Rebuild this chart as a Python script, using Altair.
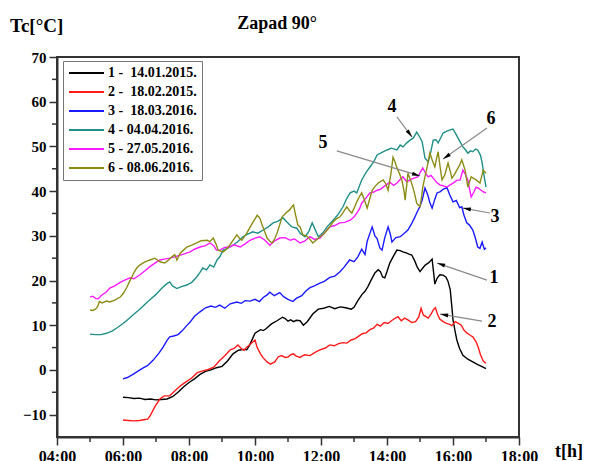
import math
import altair as alt
import pandas as pd

# ---------------- data ----------------
series_labels = ["1 -\u00a0 14.01.2015.", "2 -\u00a0 18.02.2015.", "3 -\u00a0 18.03.2016.",
                 "4 - 04.04.2016.", "5 - 27.05.2016.", "6 - 08.06.2016."]
series_colors = ["#000000", "#ff1a1a", "#1a1aff", "#1f8f88", "#ff1aff", "#8c8c14"]

s1_time = ("06:00 06:10 06:20 06:30 06:40 06:50 07:00 07:10 07:20 07:30 07:40 07:50 08:00 08:10 08:20 "
           "08:30 08:40 08:50 09:00 09:10 09:20 09:30 09:40 09:45 09:50 10:00 10:10 10:15 10:20 10:30 "
           "10:40 10:50 10:55 11:00 11:05 11:10 11:15 11:22 11:28 11:35 11:45 11:55 12:05 12:15 12:25 "
           "12:35 12:45 12:55 13:00 13:07 13:14 13:20 13:25 13:32 13:38 13:44 13:48 13:52 13:56 14:00 "
           "14:05 14:12 14:18 14:24 14:29 14:35 14:40 14:45 14:50 14:55 15:00 15:05 15:10 15:16 15:22 "
           "15:25 15:27 15:31 15:36 15:42 15:47 15:51 15:55 15:58 16:00 16:04 16:07 16:12 16:18 16:27 "
           "16:36 16:45 16:52 17:00").split()
s1_temp = [-6.1, -6.2, -6.4, -6.3, -6.6, -6.5, -6.7, -6.6, -6.5, -6.0, -5.0, -3.8, -2.8, -2.0, -1.0,
           -0.3, 0.0, 0.5, 0.8, 2.0, 3.6, 4.4, 4.6, 4.5, 5.5, 8.2, 9.0, 8.8, 9.2, 10.3,
           11.0, 11.8, 11.5, 10.9, 11.2, 10.8, 11.1, 11.0, 10.0, 10.8, 12.5, 13.6, 13.8, 14.2, 13.7,
           14.1, 13.9, 13.6, 14.0, 15.5, 16.8, 17.6, 18.6, 20.3, 21.7, 22.4, 22.0, 20.8, 20.6, 22.0,
           23.9, 25.5, 26.8, 26.7, 26.4, 26.2, 25.9, 25.7, 24.5, 23.0, 22.0, 22.8, 23.5, 24.0, 24.8,
           21.5, 19.2, 20.5, 21.3, 21.2, 20.8, 19.8, 17.9, 14.0, 11.2, 8.5, 6.7, 4.8, 3.3, 2.4,
           1.8, 1.2, 0.8, 0.3]

s2_time = ("06:00 06:10 06:20 06:30 06:40 06:45 06:50 06:58 07:07 07:15 07:25 07:35 07:45 07:55 08:05 "
           "08:15 08:25 08:35 08:45 08:55 09:05 09:15 09:22 09:29 09:35 09:40 09:45 09:52 10:00 10:04 "
           "10:10 10:15 10:22 10:28 10:36 10:42 10:48 10:55 11:00 11:05 11:10 11:15 11:22 11:30 11:40 "
           "11:50 11:58 12:08 12:16 12:24 12:32 12:40 12:47 12:55 13:02 13:08 13:15 13:22 13:29 13:36 "
           "13:42 13:48 13:55 14:02 14:08 14:14 14:20 14:26 14:32 14:38 14:45 14:52 14:58 15:02 15:06 "
           "15:10 15:15 15:20 15:25 15:28 15:32 15:36 15:42 15:48 15:54 15:58 16:04 16:10 16:15 16:20 "
           "16:25 16:32 16:36 16:42 16:46 16:50 16:55 17:00").split()
s2_temp = [-11.2, -11.3, -11.4, -11.3, -11.1, -11.0, -10.1, -8.2, -6.5, -5.8, -5.8, -4.6, -3.5, -2.6, -1.8,
           -0.6, -0.2, 0.1, 0.6, 2.0, 3.2, 4.5, 4.8, 5.6, 4.8, 4.4, 5.1, 5.8, 6.7, 5.0,
           3.6, 2.7, 1.8, 1.3, 1.8, 2.9, 3.2, 2.8, 2.9, 3.4, 3.6, 3.1, 2.8, 3.4, 3.2,
           4.0, 4.5, 4.9, 5.6, 5.4, 5.9, 6.1, 6.0, 6.7, 7.0, 7.5, 8.1, 8.3, 9.0, 9.4,
           10.2, 9.8, 10.6, 10.4, 11.0, 11.5, 11.9, 11.0, 11.6, 11.2, 10.6, 10.8, 11.9, 13.8, 12.3,
           12.0, 11.6, 12.5, 13.6, 13.9, 12.4, 11.4, 10.8, 10.4, 10.2, 9.9, 10.8, 10.4, 10.0, 8.9,
           8.3, 7.7, 7.4, 6.3, 5.0, 3.4, 2.0, 1.5]

s3_time = ("06:00 06:08 06:18 06:28 06:36 06:45 06:55 07:05 07:13 07:20 07:25 07:32 07:40 07:48 07:55 "
           "08:02 08:10 08:20 08:30 08:40 08:48 08:56 09:05 09:15 09:27 09:35 09:42 09:51 10:00 10:08 "
           "10:15 10:22 10:27 10:35 10:45 10:52 11:00 11:09 11:15 11:25 11:32 11:40 11:48 11:58 12:06 "
           "12:16 12:25 12:34 12:42 12:52 13:00 13:07 13:14 13:20 13:24 13:29 13:33 13:38 13:42 13:47 "
           "13:51 13:56 14:02 14:06 14:09 14:16 14:24 14:31 14:38 14:45 14:50 14:54 15:00 15:04 15:09 "
           "15:14 15:18 15:22 15:27 15:31 15:37 15:42 15:49 15:54 16:00 16:06 16:12 16:16 16:20 16:25 "
           "16:30 16:36 16:40 16:45 16:49 16:53 16:57 17:00").split()
s3_temp = [-2.0, -1.7, -1.0, -0.2, 0.4, 1.0, 2.2, 3.7, 5.1, 6.6, 7.4, 7.6, 7.9, 8.8, 9.8,
           10.7, 12.0, 13.0, 13.9, 14.3, 14.0, 14.5, 13.8, 14.8, 15.2, 14.9, 15.5, 15.4, 15.8, 15.3,
           16.2, 16.8, 17.4, 16.6, 17.3, 16.4, 15.8, 15.3, 16.0, 16.6, 17.6, 18.4, 18.8, 19.4, 19.8,
           20.7, 21.0, 21.9, 23.0, 24.6, 24.2, 25.3, 27.0, 25.8, 28.8, 30.6, 32.0, 30.0, 29.4, 27.3,
           26.8, 29.6, 32.0, 30.4, 28.6, 29.6, 29.8, 30.5, 31.3, 32.8, 34.0, 35.1, 36.6, 38.0, 40.7,
           39.2, 37.4, 36.2, 38.2, 39.6, 39.9, 40.4, 40.8, 39.2, 37.6, 37.9, 36.3, 36.5, 34.6, 32.9,
           32.4, 31.3, 29.8, 27.5, 27.2, 28.6, 27.0, 27.3]

s4_time = ("05:00 05:10 05:20 05:30 05:40 05:50 06:00 06:10 06:20 06:30 06:40 06:50 07:00 07:10 07:20 "
           "07:25 07:30 07:38 07:45 07:56 08:05 08:14 08:20 08:25 08:32 08:38 08:45 08:51 08:56 09:02 "
           "09:10 09:20 09:28 09:38 09:46 09:56 10:05 10:15 10:24 10:33 10:42 10:51 10:58 11:07 11:16 "
           "11:22 11:31 11:38 11:44 11:49 11:55 12:03 12:11 12:22 12:30 12:40 12:47 12:53 13:00 13:05 "
           "13:10 13:14 13:22 13:29 13:36 13:42 13:50 14:00 14:08 14:18 14:24 14:29 14:36 14:42 14:48 "
           "14:54 15:00 15:04 15:09 15:15 15:20 15:24 15:29 15:33 15:38 15:42 15:49 15:55 16:00 16:05 "
           "16:09 16:14 16:18 16:23 16:27 16:32 16:36 16:41 16:45 16:50 16:53 16:56 17:00").split()
s4_temp = [8.0, 7.9, 7.9, 8.2, 8.7, 9.5, 10.4, 11.4, 12.5, 13.5, 14.7, 15.8, 16.9, 18.2, 19.3,
           19.7, 18.8, 18.2, 18.6, 19.0, 19.6, 20.8, 21.8, 22.8, 22.4, 23.5, 23.0, 24.6, 25.3, 26.8,
           27.2, 27.9, 28.6, 29.8, 30.3, 30.9, 30.6, 31.3, 32.0, 32.9, 33.3, 34.0, 33.1, 32.0, 31.7,
           30.6, 29.8, 31.0, 32.9, 31.5, 29.8, 30.6, 32.0, 33.5, 34.6, 36.5, 38.4, 39.6, 40.0, 39.6,
           41.2, 42.5, 44.2, 45.4, 46.6, 48.1, 48.6, 49.2, 49.6, 49.2, 50.3, 49.9, 50.8, 51.4, 51.9,
           53.2, 52.0, 51.0, 47.4, 46.5, 49.0, 51.4, 51.5, 50.8, 52.0, 53.0, 53.4, 53.7, 53.9, 52.8,
           51.9, 50.8, 49.9, 49.2, 48.5, 49.0, 48.8, 49.4, 49.2, 48.0, 46.3, 43.8, 40.9]

s5_time = ("05:00 05:05 05:10 05:15 05:20 05:30 05:36 05:45 05:55 06:05 06:13 06:20 06:31 06:40 06:49 "
           "06:58 07:07 07:15 07:25 07:34 07:44 07:53 08:02 08:10 08:20 08:30 08:38 08:45 08:50 08:56 "
           "09:05 09:14 09:22 09:33 09:42 09:51 10:00 10:09 10:18 10:27 10:35 10:45 10:55 11:04 11:12 "
           "11:22 11:30 11:40 11:48 11:58 12:06 12:16 12:25 12:34 12:43 12:53 13:00 13:05 13:10 13:14 "
           "13:22 13:29 13:36 13:42 13:48 13:53 14:00 14:05 14:12 14:18 14:24 14:29 14:36 14:42 14:49 "
           "14:56 15:01 15:05 15:10 15:15 15:20 15:24 15:30 15:36 15:42 15:49 15:55 16:00 16:07 16:13 "
           "16:18 16:23 16:27 16:30 16:33 16:38 16:42 16:47 16:51 16:56 17:00").split()
s5_temp = [16.3, 16.5, 16.0, 15.9, 16.6, 17.5, 18.3, 18.8, 19.6, 20.2, 20.6, 20.4, 21.3, 22.2, 23.1,
           23.9, 24.6, 24.8, 25.0, 25.3, 25.7, 26.0, 26.4, 27.0, 27.5, 27.8, 28.4, 27.8, 26.8, 26.8,
           27.4, 27.5, 28.0, 27.5, 28.2, 29.0, 29.5, 29.8, 29.0, 27.9, 28.8, 29.5, 29.6, 29.0, 29.3,
           28.4, 28.8, 29.8, 29.2, 29.5, 30.6, 32.0, 32.3, 32.9, 33.0, 33.5, 34.2, 35.1, 36.0, 37.3,
           38.5, 39.6, 39.8, 40.2, 40.4, 40.9, 41.5, 42.0, 41.3, 41.8, 42.6, 43.2, 42.1, 42.5, 42.9,
           43.2, 44.3, 45.2, 44.0, 43.2, 43.5, 42.9, 42.0, 41.4, 41.2, 40.9, 41.4, 41.8, 42.4, 42.5,
           44.7, 43.6, 42.5, 40.5, 38.7, 39.8, 40.9, 40.6, 40.2, 39.8, 39.6]

s6_time = ("05:00 05:05 05:10 05:14 05:17 05:22 05:30 05:36 05:45 05:55 06:01 06:07 06:12 06:16 06:20 "
           "06:25 06:30 06:36 06:42 06:49 06:58 07:07 07:16 07:22 07:29 07:34 07:38 07:44 07:50 07:56 "
           "08:05 08:14 08:22 08:33 08:38 08:44 08:49 08:53 09:02 09:08 09:14 09:20 09:27 09:32 09:36 "
           "09:45 09:55 10:04 10:09 10:13 10:18 10:22 10:27 10:31 10:36 10:40 10:45 10:49 10:54 10:58 "
           "11:03 11:07 11:10 11:13 11:18 11:22 11:27 11:34 11:40 11:45 11:51 11:58 12:05 12:11 12:17 "
           "12:22 12:28 12:34 12:40 12:47 12:52 12:56 13:01 13:05 13:10 13:14 13:19 13:24 13:28 13:33 "
           "13:38 13:44 13:49 13:53 13:58 14:02 14:07 14:11 14:15 14:18 14:23 14:27 14:31 14:33 14:36 "
           "14:38 14:43 14:47 14:51 14:54 15:00 15:03 15:05 15:09 15:13 15:18 15:22 15:27 15:30 15:33 "
           "15:37 15:40 15:45 15:51 15:55 15:58 16:03 16:07 16:12 16:16 16:22 16:27 16:33 16:38 16:42 "
           "16:49 16:55 17:00").split()
s6_temp = [13.4, 13.3, 13.6, 14.2, 15.3, 15.0, 15.4, 15.2, 15.6, 16.3, 17.2, 18.5, 19.8, 20.8, 21.8,
           22.8, 23.4, 23.9, 24.3, 24.6, 25.0, 24.2, 23.9, 24.5, 25.3, 25.8, 24.6, 26.1, 26.8, 27.5,
           27.9, 28.4, 28.9, 29.0, 28.7, 29.5, 28.2, 26.8, 26.4, 27.0, 27.9, 29.0, 30.2, 29.4, 29.0,
           30.6, 32.8, 34.6, 33.9, 32.4, 30.8, 29.5, 28.8, 28.4, 29.4, 30.6, 32.5, 34.2, 34.8, 35.3,
           35.8, 36.5, 36.9, 35.1, 32.4, 32.0, 30.2, 30.0, 29.2, 28.4, 29.0, 29.8, 30.4, 31.3, 32.2,
           33.1, 33.8, 34.2, 35.2, 36.5, 35.6, 35.1, 36.4, 37.6, 38.8, 39.6, 38.0, 36.2, 38.0, 40.2,
           41.0, 41.8, 42.2, 42.5, 41.6, 40.2, 43.8, 47.6, 46.4, 45.2, 43.8, 42.5, 40.0, 38.0, 41.5,
           44.0, 42.4, 40.9, 39.0, 37.3, 36.5, 38.8, 40.9, 43.2, 45.4, 48.5, 47.0, 45.4, 47.2, 48.8,
           45.0, 42.5, 43.6, 46.3, 44.4, 42.9, 43.8, 44.7, 45.8, 47.0, 44.7, 40.9, 43.2, 42.8, 42.5,
           41.8, 44.7, 44.0]

# annotation numbers and arrows (time in hours, temperature in degC)
ann_text = ["4", "6", "5", "3", "1", "2"]
ann_t = [14.15, 17.15, 12.06, 17.27, 17.24, 17.18]
ann_v = [58.8, 56.1, 50.8, 34.2, 20.6, 10.7]
arrow_t0 = [14.30, 17.03, 12.48, 17.12, 17.03, 16.88]
arrow_v0 = [56.6, 54.1, 49.0, 35.1, 20.1, 10.9]
arrow_t1 = [14.76, 15.70, 15.00, 16.30, 15.52, 15.61]
arrow_v1 = [52.1, 47.2, 43.4, 36.2, 23.9, 12.5]

x_major = [4, 6, 8, 10, 12, 14, 16, 18]
x_minor = [5, 7, 9, 11, 13, 15, 17]
y_major = [-10, 0, 10, 20, 30, 40, 50, 60, 70]
y_minor = [-5, 5, 15, 25, 35, 45, 55, 65]

# ---------------- build tables ----------------
def hours(s):
    h, m = s.split(":")
    return int(h) + int(m) / 60.0

rows = []
for lab, ts, vs in zip(series_labels,
                       [s1_time, s2_time, s3_time, s4_time, s5_time, s6_time],
                       [s1_temp, s2_temp, s3_temp, s4_temp, s5_temp, s6_temp]):
    for k, (tt, vv) in enumerate(zip(ts, vs)):
        rows.append({"series": lab, "t": hours(tt), "v": vv, "k": k})
df = pd.DataFrame(rows)

W, H = 462, 380
px_h = W / 14.0
px_c = H / 85.0
angles = []
for a, b, c, d in zip(arrow_t0, arrow_v0, arrow_t1, arrow_v1):
    dx = (c - a) * px_h
    dy = -(d - b) * px_c
    angles.append(math.degrees(math.atan2(dx, -dy)) % 360)
ann_df = pd.DataFrame({"lab": ann_text, "t": ann_t, "v": ann_v})
arr_df = pd.DataFrame({"t": arrow_t0, "v": arrow_v0, "t2": arrow_t1, "v2": arrow_v1})
head_df = pd.DataFrame({"t": arrow_t1, "v": arrow_v1, "ang": angles})

FONT = "Liberation Serif"
xs = alt.Scale(domain=[4, 18], nice=False, zero=False)
ys = alt.Scale(domain=[-15, 70], nice=False, zero=False)
axis_common = dict(title=None, grid=False, domainColor="#333333", domainWidth=2,
                   tickColor="#333333", tickWidth=1.5, tickSize=8, labelFlush=False,
                   labelFont=FONT, labelFontWeight="bold", labelColor="#000000")
xaxis = alt.Axis(values=x_major, labelPadding=3, labelFontSize=16, labelOverlap=False,
                 labelExpr="(datum.value < 10 ? '0' : '') + datum.value + ':00'", **axis_common)
yaxis = alt.Axis(values=y_major, labelPadding=3, labelFontSize=15, **axis_common)

X = alt.X("t:Q", scale=xs, axis=xaxis)
Y = alt.Y("v:Q", scale=ys, axis=yaxis)

lines = alt.Chart(df).mark_line(strokeWidth=1.4).encode(
    x=X, y=Y,
    color=alt.Color("series:N",
                    scale=alt.Scale(domain=series_labels, range=series_colors),
                    legend=alt.Legend(title=None, orient="none", legendX=6, legendY=4,
                                      symbolType="stroke", symbolSize=1225, symbolStrokeWidth=2,
                                      clipHeight=14,
                                      labelFont=FONT, labelFontWeight="bold", labelFontSize=14,
                                      labelColor="#000000", labelOffset=3,
                                      strokeColor="#777777", fillColor="#ffffff",
                                      padding=5, rowPadding=5)),
    order="k:Q",
)

xminor = alt.Chart(pd.DataFrame({"t": x_minor})).mark_rule(color="#333333", strokeWidth=1.5).encode(
    x=X, y=alt.value(H), y2=alt.value(H + 5))
yminor = alt.Chart(pd.DataFrame({"v": y_minor})).mark_rule(color="#333333", strokeWidth=1.5).encode(
    y=Y, x=alt.value(0), x2=alt.value(-5))

arrows = alt.Chart(arr_df).mark_rule(color="#8a8a8a", strokeWidth=1.2).encode(
    x=X, y=Y, x2="t2:Q", y2="v2:Q")
heads = alt.Chart(head_df).mark_point(shape="M0,0L0.5,2L-0.5,2Z", filled=True, color="#000000",
                                      opacity=1, size=64, strokeWidth=0).encode(
    x=X, y=Y, angle=alt.Angle("ang:Q", scale=None))
nums = alt.Chart(ann_df).mark_text(font=FONT, fontWeight="bold", fontSize=18, color="#000000").encode(
    x=X, y=Y, text="lab:N")

one = pd.DataFrame({"a": [0]})
title = alt.Chart(one).mark_text(font=FONT, fontWeight="bold", fontSize=18, color="#000000").encode(
    x=alt.value(220), y=alt.value(-33), text=alt.value("Zapad 90°"))
ytitle = alt.Chart(one).mark_text(font=FONT, fontWeight="bold", fontSize=19, color="#000000",
                                  align="left").encode(
    x=alt.value(-47), y=alt.value(-31), text=alt.value("Tc[°C]"))
xtitle = alt.Chart(one).mark_text(font=FONT, fontWeight="bold", fontSize=18, color="#000000",
                                  align="right").encode(
    x=alt.value(526), y=alt.value(395), text=alt.value("t[h]"))

chart = alt.layer(lines, xminor, yminor, arrows, heads, nums, title, ytitle, xtitle).properties(
    width=W, height=H,
    autosize=alt.AutoSizeParams(type="none"),
    padding={"left": 49, "top": 49, "right": 66, "bottom": 24},
).configure_view(stroke="#333333", strokeWidth=2)

chart.save("out.html", embed_options={"renderer": "svg", "actions": False})
